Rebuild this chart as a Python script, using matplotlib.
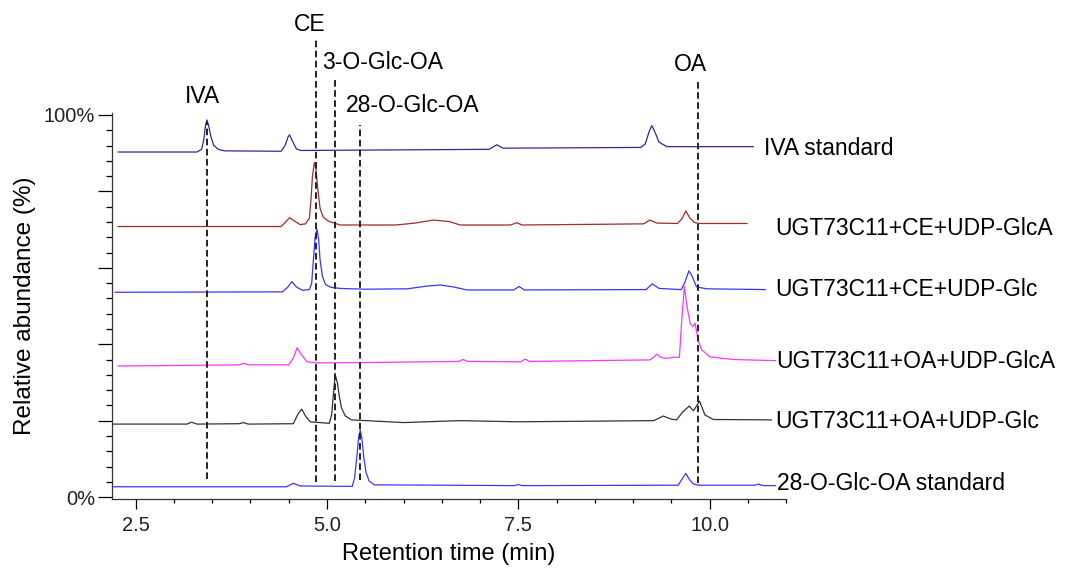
import matplotlib.pyplot as plt
from matplotlib.ticker import FixedLocator, FuncFormatter

plt.rcParams['font.family'] = ['Liberation Sans', 'DejaVu Sans']

# traces: retention time (min) and stacked relative abundance (%)
iva_t = [2.27, 3.30, 3.36, 3.39, 3.41, 3.43, 3.45, 3.48, 3.52, 3.58, 3.66, 4.40, 4.45, 4.49,
         4.51, 4.54, 4.60, 4.66, 7.12, 7.22, 7.30, 9.10, 9.16, 9.21, 9.245, 9.28, 9.34, 9.44,
         10.57]
iva_y = [90.3, 90.3, 91.0, 93.5, 97.0, 98.7, 97.5, 94.5, 92.0, 91.0, 90.6, 90.5, 91.9, 94.2,
         94.8, 93.5, 91.1, 90.7, 91.0, 92.2, 91.3, 91.5, 92.4, 95.6, 97.2, 95.8, 92.9, 91.7,
         91.7]

ce_glca_t = [2.27, 4.40, 4.46, 4.51, 4.57, 4.65, 4.72, 4.77, 4.79, 4.81, 4.835, 4.855, 4.88,
             4.91, 4.95, 5.02, 5.17, 5.90, 6.15, 6.39, 6.60, 6.74, 7.40, 7.48, 7.55, 9.14, 9.22,
             9.31, 9.58, 9.64, 9.69, 9.74, 9.80, 9.86, 10.49]
ce_glca_y = [70.8, 70.8, 72.0, 73.1, 72.3, 71.3, 71.5, 73.0, 77.5, 84.0, 87.5, 86.0, 80.5,
             75.5, 73.3, 72.2, 71.2, 71.2, 71.7, 72.5, 72.1, 71.2, 71.2, 71.8, 71.2, 71.5, 72.5,
             71.7, 71.6, 72.8, 74.9, 73.1, 71.9, 71.6, 71.6]

ce_glc_t = [2.23, 4.42, 4.49, 4.54, 4.60, 4.68, 4.77, 4.80, 4.82, 4.845, 4.87, 4.89, 4.91,
            4.94, 4.98, 5.05, 5.17, 5.50, 6.05, 6.30, 6.48, 6.65, 6.83, 7.44, 7.51, 7.58, 9.17,
            9.25, 9.34, 9.63, 9.68, 9.73, 9.77, 9.83, 9.96, 10.73]
ce_glc_y = [53.6, 53.7, 55.0, 56.4, 55.0, 54.1, 54.3, 56.0, 61.5, 68.0, 70.1, 67.5, 62.0,
            57.8, 55.6, 54.9, 54.6, 54.4, 54.5, 55.2, 55.5, 55.0, 54.2, 54.2, 55.1, 54.2, 54.3,
            55.8, 54.6, 54.3, 56.3, 59.2, 57.9, 55.0, 54.5, 54.3]

oa_glca_t = [2.27, 3.85, 3.91, 3.97, 4.50, 4.56, 4.61, 4.66, 4.74, 4.87, 5.50, 6.72, 6.78, 6.84,
             7.53, 7.59, 7.65, 9.22, 9.27, 9.31, 9.36, 9.44, 9.53, 9.606, 9.637, 9.671, 9.702,
             9.746, 9.781, 9.811, 9.855, 9.899, 10.007, 10.31, 10.86]
oa_glca_y = [34.3, 34.6, 35.0, 34.6, 34.6, 36.4, 39.1, 37.4, 35.4, 35.1, 35.2, 35.5, 36.0, 35.5,
             35.4, 36.1, 35.5, 35.9, 36.6, 37.4, 36.6, 36.3, 36.6, 36.6, 46.3, 55.2, 50.3,
             45.5, 44.6, 45.5, 40.7, 38.5, 36.7, 36.0, 35.7]

oa_glc_t = [2.19, 3.17, 3.23, 3.30, 3.85, 3.91, 3.97, 4.56, 4.62, 4.67, 4.72, 4.78, 5.03, 5.06,
            5.08, 5.10, 5.115, 5.135, 5.16, 5.19, 5.24, 5.32, 6.00, 6.74, 7.50, 9.27, 9.395,
            9.50, 9.57, 9.65, 9.735, 9.79, 9.87, 9.94, 10.05, 10.81]
oa_glc_y = [19.1, 19.1, 19.6, 19.1, 19.2, 19.5, 19.1, 19.2, 21.7, 23.0, 21.2, 19.7, 19.3, 21.5,
            26.0, 30.5, 31.5, 30.0, 26.5, 23.3, 21.2, 20.2, 19.5, 20.0, 19.7, 20.0, 21.2,
            20.4, 20.2, 22.3, 23.8, 22.6, 25.1, 21.5, 20.3, 20.2]

glc28_t = [2.15, 4.47, 4.56, 4.65, 5.33, 5.36, 5.39, 5.415, 5.435, 5.455, 5.48, 5.51, 5.55,
           5.62, 7.45, 7.50, 7.55, 9.59, 9.64, 9.69, 9.74, 9.79, 9.87, 10.59, 10.64, 10.70,
           10.86]
glc28_y = [2.7, 2.7, 3.6, 2.9, 2.8, 5.0, 10.5, 16.0, 17.5, 15.5, 10.5, 6.5, 4.2,
           3.2, 3.0, 3.3, 3.0, 3.1, 4.7, 6.2, 4.5, 3.4, 3.1, 3.1, 3.4, 3.0,
           3.0]

trace_names = ['IVA standard', 'UGT73C11+CE+UDP-GlcA', 'UGT73C11+CE+UDP-Glc',
               'UGT73C11+OA+UDP-GlcA', 'UGT73C11+OA+UDP-Glc', '28-O-Glc-OA standard']
trace_colors = ['#2a2a96', '#a52a2a', '#3535ff', '#ff33ff', '#333333', '#3a3aff']
name_x = [10.71, 10.86, 10.86, 10.87, 10.86, 10.88]
name_y = [91.2, 70.3, 54.2, 35.4, 19.7, 3.6]

# compound markers: retention time, dashed line span, label
cmp_names = ['IVA', 'CE', '3-O-Glc-OA', '28-O-Glc-OA', 'OA']
cmp_t = [3.43, 4.86, 5.11, 5.43, 9.85]
cmp_top = [98.2, 119.6, 109.9, 97.4, 109.2]
cmp_bottom = [4.7, 4.0, 4.2, 4.45, 3.7]
cmp_lx = [3.37, 4.78, 4.935, 5.25, 9.75]
cmp_ly = [104.7, 123.6, 113.6, 102.6, 113.1]
cmp_ha = ['center', 'center', 'left', 'left', 'center']

fig = plt.figure(figsize=(10.75, 5.68), dpi=100)
ax = fig.add_axes([0.1042, 0.1215, 0.627, 0.6795])

traces = [(iva_t, iva_y), (ce_glca_t, ce_glca_y), (ce_glc_t, ce_glc_y),
          (oa_glca_t, oa_glca_y), (oa_glc_t, oa_glc_y), (glc28_t, glc28_y)]
for (t, y), c, name, nx, ny in zip(traces, trace_colors, trace_names, name_x, name_y):
    ax.plot(t, y, color=c, lw=0.9, solid_joinstyle='round')
    ax.text(nx, ny, name, fontsize=16.5, ha='left', va='center', clip_on=False)

for name, t, top, bot, lx, ly, ha in zip(cmp_names, cmp_t, cmp_top, cmp_bottom, cmp_lx, cmp_ly, cmp_ha):
    ax.plot([t, t], [bot, top], color='#222222', lw=1.4, ls=(0, (3.4, 1.8)), clip_on=False)
    ax.text(lx, ly, name, fontsize=16.5, ha=ha, va='center', clip_on=False)

ax.set_xlim(2.19, 11.0)
ax.set_ylim(-0.5, 100.5)
ax.xaxis.set_major_locator(FixedLocator([2.5, 5.0, 7.5, 10.0]))
ax.xaxis.set_minor_locator(FixedLocator([2.5 + 0.5 * i for i in range(18)]))
ax.xaxis.set_major_formatter(FuncFormatter(lambda v, p: f'{v:.1f}'))
ax.yaxis.set_major_locator(FixedLocator([0, 20, 40, 60, 80, 100]))
ax.yaxis.set_minor_locator(FixedLocator(list(range(0, 101, 4))))
ax.yaxis.set_major_formatter(FuncFormatter(lambda v, p: f'{v:.0f}%' if v in (0, 100) else ''))
ax.tick_params(axis='x', which='major', length=7, width=0.9, labelsize=14.5, pad=5, labelcolor='#222222')
ax.tick_params(axis='x', which='minor', length=3, width=0.9)
ax.tick_params(axis='y', which='major', length=10, width=0.9, labelsize=14.5, pad=2, labelcolor='#222222')
ax.tick_params(axis='y', which='minor', length=4, width=0.9)
for s in ['top', 'right']:
    ax.spines[s].set_visible(False)
for s in ['left', 'bottom']:
    ax.spines[s].set_linewidth(0.9)
    ax.spines[s].set_color('#333333')

ax.set_xlabel('Retention time (min)', fontsize=17, labelpad=6)
ax.set_ylabel('Relative abundance (%)', fontsize=17.5, labelpad=6)

fig.savefig('out.png', dpi=100)
